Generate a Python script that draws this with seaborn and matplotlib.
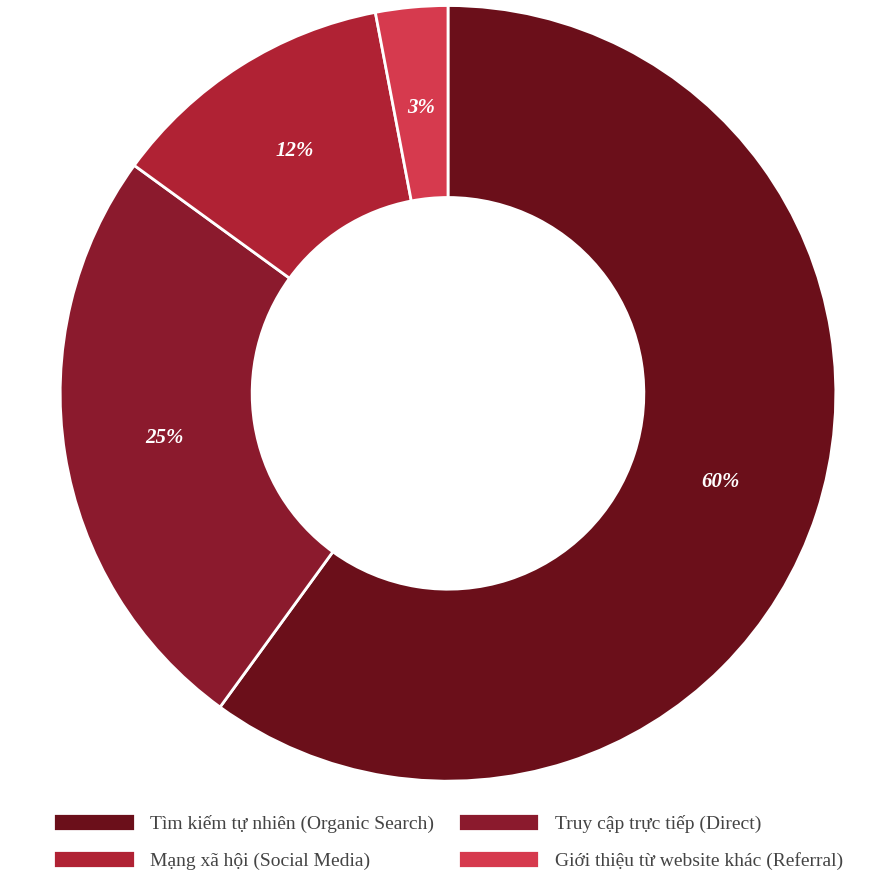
import matplotlib
matplotlib.use("Agg")
import matplotlib.pyplot as plt
import seaborn as sns

sns.set_theme(style="white")
plt.rcParams['font.family'] = ['Liberation Serif', 'DejaVu Serif']

labels = ["Tìm kiếm tự nhiên (Organic Search)", "Truy cập trực tiếp (Direct)",
          "Mạng xã hội (Social Media)", "Giới thiệu từ website khác (Referral)"]
values = [60, 25, 12, 3]
colors = ["#6B0F1A", "#8B1A2D", "#B02234", "#D63A4E"]

fig = plt.figure(figsize=(8.96, 8.96), dpi=100)
ax = fig.add_axes([0.065, 0.126, 0.87, 0.87])
wedges, texts, autotexts = ax.pie(values, colors=colors, startangle=90, counterclock=False,
       autopct='%d%%', pctdistance=0.74,
       wedgeprops=dict(width=0.495, edgecolor='white', linewidth=2))
for t in autotexts:
    t.set_color('white'); t.set_fontsize(15); t.set_fontweight('bold'); t.set_fontstyle('italic')
ax.set_xlim(-1.005, 1.005)
ax.set_ylim(-1.005, 1.005)
ax.set_aspect('equal')
order = [0, 2, 1, 3]
fig.legend([wedges[i] for i in order], [labels[i] for i in order], loc='lower center', ncol=2,
           frameon=False, fontsize=14, handlelength=4.2, handleheight=1.0, columnspacing=1.2,
           labelspacing=0.9, labelcolor='#444444', bbox_to_anchor=(0.5, 0.01))
fig.savefig("out.png", dpi=100, facecolor='white')
